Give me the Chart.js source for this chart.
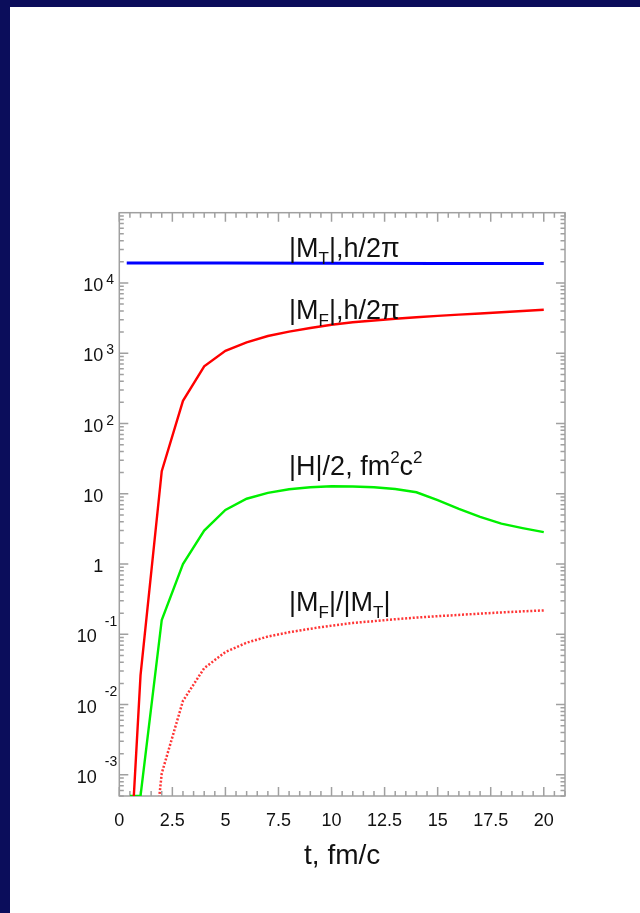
<!DOCTYPE html>
<html>
<head>
<meta charset="utf-8">
<script src="https://cdn.jsdelivr.net/npm/chart.js@4.4.1/dist/chart.umd.min.js"></script>
<style>
  html, body { margin: 0; padding: 0; width: 640px; height: 913px; overflow: hidden; background: #0b0d5b; }
  #sheet { position: absolute; left: 10px; top: 7px; width: 630px; height: 906px; background: #fff; }
  canvas { display: block; }
</style>
</head>
<body>
<div id="sheet"><canvas id="chart" width="630" height="906"></canvas></div>
<script>
// time grid, fm/c
const tTotal = [0.35, 5, 10, 15, 20];
const tMain = [0.5, 1, 2, 3, 4, 5, 6, 7, 8, 9, 10, 11, 12, 13, 14, 15, 16, 17, 18, 19, 20];
const tRatio = [1, 2, 3, 4, 5, 6, 7, 8, 9, 10, 11, 12, 13, 14, 15, 16, 17, 18, 19, 20];

// |M_T|, h/2pi
const mTotal = [19300, 19200, 19050, 19000, 19000];
// |M_F|, h/2pi
const mField = [5e-5, 0.026, 21, 210, 650, 1080, 1430, 1760, 2030, 2290, 2540, 2760, 2930, 3090, 3250, 3400, 3540, 3680, 3830, 3990, 4150];
// |H|/2, fm^2 c^2
const hHalf = [5e-4, 5e-4, 0.16, 1.0, 3.0, 5.9, 8.5, 10.3, 11.6, 12.4, 12.8, 12.7, 12.4, 11.7, 10.5, 8.1, 6.1, 4.7, 3.75, 3.25, 2.85];
// |M_F|/|M_T|
const ratio = [1.4e-6, 1.05e-3, 0.0113, 0.033, 0.056, 0.076, 0.093, 0.107, 0.12, 0.133, 0.145, 0.154, 0.164, 0.173, 0.181, 0.189, 0.197, 0.205, 0.212, 0.219];

const xTicks = [0, 2.5, 5, 7.5, 10, 12.5, 15, 17.5, 20];
const xTickLabels = ['0', '2.5', '5', '7.5', '10', '12.5', '15', '17.5', '20'];
const yDecades = [-3, -2, -1, 0, 1, 2, 3, 4];

// curve captions: [text, shift] pieces, shift -1 = subscript, 1 = superscript
const notes = [
  { t: 8, v: 23660, parts: [['|M', 0], ['T', -1], ['|,h/2\u03c0', 0]] },
  { t: 8, v: 3040, parts: [['|M', 0], ['F', -1], ['|,h/2\u03c0', 0]] },
  { t: 8, v: 18.5, parts: [['|H|/2, fm', 0], ['2', 1], ['c', 0], ['2', 1]] },
  { t: 8, v: 0.217, parts: [['|M', 0], ['F', -1], ['|/|M', 0], ['T', -1], ['|', 0]] },
];

const pts = (xs, ys) => xs.map((x, i) => ({ x, y: ys[i] }));
const FONT = '"Liberation Sans", Arial, Helvetica, sans-serif';

const idlAxes = {
  id: 'idlAxes',
  beforeDatasetsDraw(chart) {
    const { ctx, chartArea: a, scales: { x, y } } = chart;
    ctx.save();
    ctx.strokeStyle = '#a0a0a0';
    ctx.lineWidth = 1.5;
    ctx.strokeRect(a.left, a.top, a.width, a.height);
    ctx.beginPath();
    for (let k = 0; k <= 42; k++) {
      const v = k * 0.5;
      const px = x.getPixelForValue(v);
      const len = k % 5 === 0 ? 9 : 5;
      ctx.moveTo(px, a.bottom); ctx.lineTo(px, a.bottom - len);
      ctx.moveTo(px, a.top); ctx.lineTo(px, a.top + len);
    }
    for (let e = -4; e <= 4; e++) {
      for (let m = 1; m <= 9; m++) {
        const v = m * Math.pow(10, e);
        if (v < y.min * 0.999 || v > y.max * 1.001) continue;
        const py = y.getPixelForValue(v);
        const len = m === 1 ? 9 : 4.5;
        ctx.moveTo(a.left, py); ctx.lineTo(a.left + len, py);
        ctx.moveTo(a.right, py); ctx.lineTo(a.right - len, py);
      }
    }
    ctx.stroke();

    // tick labels
    ctx.fillStyle = '#111';
    ctx.font = '18px ' + FONT;
    ctx.textAlign = 'center';
    ctx.textBaseline = 'alphabetic';
    xTicks.forEach((v, i) => ctx.fillText(xTickLabels[i], x.getPixelForValue(v), a.bottom + 30));

    yDecades.forEach(e => {
      const py = y.getPixelForValue(Math.pow(10, e));
      ctx.font = '18px ' + FONT;
      ctx.textAlign = 'right';
      if (e === 0 || e === 1) {
        ctx.fillText(e === 0 ? '1' : '10', a.left - 16, py + 8);
      } else if (e > 1) {
        ctx.fillText('10', a.left - 16, py + 8);
        ctx.font = '14px ' + FONT;
        ctx.textAlign = 'left';
        ctx.fillText(String(e), a.left - 13, py + 1);
      } else {
        ctx.fillText('10', a.left - 22.5, py + 8);
        ctx.font = '14px ' + FONT;
        ctx.textAlign = 'left';
        ctx.fillText('-' + String(-e), a.left - 14.5, py - 8.7);
      }
    });

    // axis title
    ctx.font = '28px ' + FONT;
    ctx.textAlign = 'center';
    ctx.fillText('t, fm/c', (a.left + a.right) / 2, a.bottom + 68);
    ctx.restore();
  },
  afterDatasetsDraw(chart) {
    const { ctx, scales: { x, y } } = chart;
    ctx.save();
    ctx.fillStyle = '#111';
    ctx.textAlign = 'left';
    ctx.textBaseline = 'alphabetic';
    notes.forEach(n => {
      let px = x.getPixelForValue(n.t);
      const py = y.getPixelForValue(n.v);
      n.parts.forEach(([txt, s]) => {
        ctx.font = (s === 0 ? '27px ' : '17px ') + FONT;
        const dy = s === 0 ? 0 : (s < 0 ? 7 : -12);
        ctx.fillText(txt, px, py + dy);
        px += ctx.measureText(txt).width;
      });
    });
    ctx.restore();
  }
};

new Chart(document.getElementById('chart'), {
  type: 'line',
  data: {
    datasets: [
      { label: '|M_T|', data: pts(tTotal, mTotal), borderColor: '#0000ff', borderWidth: 3 },
      { label: '|M_F|', data: pts(tMain, mField), borderColor: '#ff0000', borderWidth: 2.4 },
      { label: '|H|/2', data: pts(tMain, hHalf), borderColor: '#00f000', borderWidth: 2.4 },
      { label: '|M_F|/|M_T|', data: pts(tRatio, ratio), borderColor: '#ff3535', borderWidth: 2.5, borderDash: [2, 1.8] },
    ]
  },
  options: {
    responsive: false,
    animation: false,
    devicePixelRatio: 1,
    layout: { padding: { left: 109.3, top: 205.7, right: 75, bottom: 117 } },
    elements: { point: { radius: 0 }, line: { tension: 0, fill: false, borderCapStyle: 'butt' } },
    plugins: { legend: { display: false }, tooltip: { enabled: false } },
    scales: {
      x: {
        type: 'linear', min: 0, max: 21,
        grid: { display: false }, border: { display: false },
        ticks: { display: false },
        afterFit: s => { s.height = 0; },
      },
      y: {
        type: 'logarithmic', min: 5e-4, max: 1e5,
        grid: { display: false }, border: { display: false },
        ticks: { display: false },
        afterFit: s => { s.width = 0; },
      }
    }
  },
  plugins: [idlAxes]
});
</script>
</body>
</html>
